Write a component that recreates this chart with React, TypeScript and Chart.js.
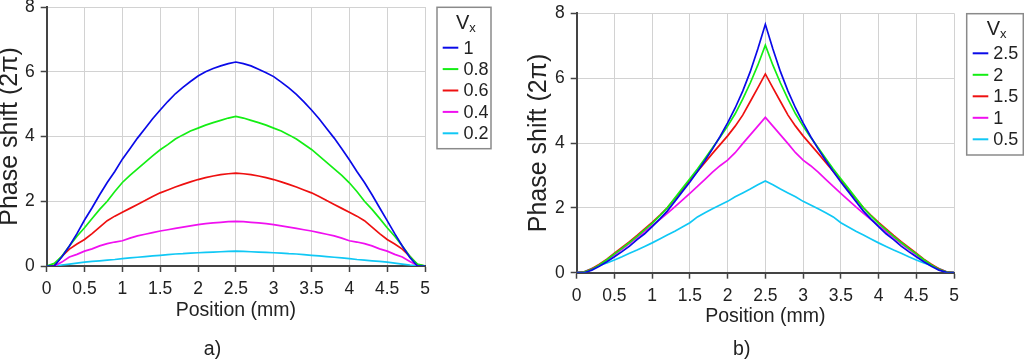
import React, { useEffect, useRef } from 'react';
import { Chart, registerables } from 'chart.js';

Chart.register(...registerables);

const FONT = '"Liberation Sans", Arial, Helvetica, sans-serif';

const positions = [
  0, 0.1, 0.2, 0.3, 0.4, 0.5, 0.6, 0.7, 0.8, 0.9, 1.0, 1.1, 1.2, 1.3, 1.4, 1.5, 1.6, 1.7, 1.8, 1.9, 2.0,
  2.1, 2.2, 2.3, 2.4, 2.5, 2.6, 2.7, 2.8, 2.9, 3.0, 3.1, 3.2, 3.3, 3.4, 3.5, 3.6, 3.7, 3.8, 3.9, 4.0,
  4.1, 4.2, 4.3, 4.4, 4.5, 4.6, 4.7, 4.8, 4.9, 5.0,
];

// Chart a) — legend Vx: 1, 0.8, 0.6, 0.4, 0.2
const vxLabelsA = ['1', '0.8', '0.6', '0.4', '0.2'];
const phaseA_1 = [
  0, 0, 0.28, 0.62, 1.0, 1.42, 1.8, 2.2, 2.58, 2.92, 3.3, 3.62, 3.95, 4.25, 4.55, 4.82, 5.08, 5.32, 5.52, 5.7, 5.87,
  6.0, 6.1, 6.18, 6.25, 6.3,
  6.25, 6.18, 6.08, 5.97, 5.85, 5.68, 5.5, 5.3, 5.07, 4.82, 4.55, 4.25, 3.95, 3.62, 3.28,
  2.92, 2.58, 2.2, 1.8, 1.4, 1.0, 0.62, 0.26, 0, 0,
];
const phaseA_08 = [
  0, 0.08, 0.3, 0.62, 0.92, 1.18, 1.47, 1.75, 2.0, 2.3, 2.58, 2.8, 3.0, 3.2, 3.4, 3.59, 3.75, 3.92, 4.05, 4.17, 4.26,
  4.35, 4.43, 4.5, 4.57, 4.62,
  4.57, 4.5, 4.43, 4.35, 4.26, 4.17, 4.05, 3.92, 3.76, 3.6, 3.4, 3.2, 3.0, 2.8, 2.57,
  2.3, 2.0, 1.75, 1.47, 1.18, 0.92, 0.62, 0.3, 0.06, 0,
];
const phaseA_06 = [
  0, 0.02, 0.3, 0.52, 0.68, 0.82, 1.0, 1.2, 1.4, 1.54, 1.66, 1.78, 1.9, 2.02, 2.15, 2.26, 2.35, 2.44, 2.52, 2.6, 2.67,
  2.73, 2.78, 2.82, 2.85, 2.87,
  2.85, 2.82, 2.78, 2.73, 2.67, 2.6, 2.52, 2.44, 2.35, 2.26, 2.15, 2.02, 1.9, 1.78, 1.66,
  1.54, 1.4, 1.2, 1.0, 0.82, 0.68, 0.52, 0.3, 0.04, 0,
];
const phaseA_04 = [
  0, 0, 0.12, 0.28, 0.36, 0.46, 0.53, 0.62, 0.69, 0.74, 0.78, 0.86, 0.93, 0.98, 1.03, 1.08, 1.12, 1.16, 1.2, 1.24, 1.28,
  1.31, 1.33, 1.35, 1.37, 1.38,
  1.37, 1.35, 1.33, 1.31, 1.28, 1.24, 1.2, 1.16, 1.12, 1.08, 1.03, 0.98, 0.93, 0.86, 0.78,
  0.74, 0.69, 0.62, 0.53, 0.46, 0.36, 0.28, 0.14, 0.02, 0,
];
const phaseA_02 = [
  0, 0, 0.03, 0.06, 0.09, 0.12, 0.14, 0.16, 0.18, 0.2, 0.23, 0.25, 0.27, 0.29, 0.31, 0.33, 0.35, 0.37, 0.38, 0.4, 0.41,
  0.42, 0.43, 0.44, 0.45, 0.46,
  0.45, 0.44, 0.43, 0.42, 0.41, 0.4, 0.38, 0.37, 0.35, 0.33, 0.31, 0.29, 0.27, 0.25, 0.23,
  0.2, 0.18, 0.16, 0.14, 0.12, 0.09, 0.06, 0.03, 0.01, 0,
];

// Chart b) — legend Vx: 2.5, 2, 1.5, 1, 0.5
const vxLabelsB = ['2.5', '2', '1.5', '1', '0.5'];
const phaseB_25 = [
  0, 0, 0.08, 0.2, 0.34, 0.49, 0.65, 0.82, 1.02, 1.2, 1.42, 1.65, 1.9, 2.2, 2.5, 2.8, 3.12, 3.46, 3.82, 4.2, 4.62,
  5.08, 5.6, 6.2, 6.9, 7.66,
  6.9, 6.2, 5.6, 5.08, 4.62, 4.2, 3.82, 3.46, 3.12, 2.8, 2.5, 2.2, 1.9, 1.65, 1.42,
  1.2, 1.02, 0.82, 0.65, 0.49, 0.34, 0.2, 0.08, 0.01, 0,
];
const phaseB_2 = [
  0, 0.02, 0.1, 0.24, 0.4, 0.58, 0.75, 0.93, 1.12, 1.32, 1.52, 1.75, 2.0, 2.3, 2.6, 2.9, 3.2, 3.52, 3.85, 4.18, 4.52,
  4.9, 5.35, 5.85, 6.4, 7.02,
  6.4, 5.85, 5.35, 4.9, 4.52, 4.18, 3.85, 3.52, 3.2, 2.9, 2.6, 2.3, 2.0, 1.75, 1.52,
  1.32, 1.12, 0.93, 0.75, 0.58, 0.4, 0.24, 0.1, 0.02, 0,
];
const phaseB_15 = [
  0, 0.03, 0.12, 0.26, 0.42, 0.6, 0.78, 0.96, 1.15, 1.35, 1.55, 1.77, 2.0, 2.28, 2.56, 2.85, 3.12, 3.4, 3.68, 3.95, 4.22,
  4.52, 4.86, 5.28, 5.7, 6.13,
  5.7, 5.28, 4.86, 4.52, 4.22, 3.95, 3.68, 3.4, 3.12, 2.85, 2.56, 2.28, 2.0, 1.77, 1.55,
  1.35, 1.15, 0.96, 0.78, 0.6, 0.42, 0.26, 0.12, 0.03, 0,
];
const phaseB_1 = [
  0, 0.02, 0.1, 0.23, 0.38, 0.55, 0.72, 0.9, 1.08, 1.27, 1.45, 1.64, 1.83, 2.03, 2.24, 2.45, 2.66, 2.88, 3.1, 3.3, 3.47,
  3.7, 3.98, 4.25, 4.52, 4.79,
  4.52, 4.25, 3.98, 3.7, 3.47, 3.3, 3.1, 2.88, 2.66, 2.45, 2.24, 2.03, 1.83, 1.64, 1.45,
  1.27, 1.08, 0.9, 0.72, 0.55, 0.38, 0.23, 0.1, 0.02, 0,
];
const phaseB_05 = [
  0, 0.03, 0.13, 0.22, 0.3, 0.39, 0.49, 0.6, 0.7, 0.81, 0.92, 1.04, 1.16, 1.28, 1.41, 1.54, 1.72, 1.85, 1.97, 2.09, 2.2,
  2.34, 2.46, 2.58, 2.71, 2.83,
  2.71, 2.58, 2.46, 2.34, 2.2, 2.09, 1.97, 1.85, 1.72, 1.54, 1.41, 1.28, 1.16, 1.04, 0.92,
  0.81, 0.7, 0.6, 0.49, 0.39, 0.3, 0.22, 0.13, 0.03, 0,
];

const xTicksMax = 5;
const yTicksMax = 8;
const seriesColors = ['#0a0ae8', '#14ee14', '#ee1010', '#f010f0', '#10c8f5'];

const seriesA = [phaseA_1, phaseA_08, phaseA_06, phaseA_04, phaseA_02];
const seriesB = [phaseB_25, phaseB_2, phaseB_15, phaseB_1, phaseB_05];

const boxLegendPlugin = {
  id: 'boxLegend',
  afterDraw(chart: any, _args: any, opts: any) {
    const ctx = chart.ctx as CanvasRenderingContext2D;
    ctx.save();
    ctx.strokeStyle = '#8a8a8a';
    ctx.lineWidth = 1.5;
    ctx.strokeRect(opts.x, opts.y, opts.w, opts.h);
    ctx.fillStyle = '#222';
    ctx.textBaseline = 'middle';
    ctx.textAlign = 'left';
    ctx.font = `${opts.titleSize}px ${FONT}`;
    ctx.fillText('V', opts.titleX, opts.titleY);
    const vw = ctx.measureText('V').width;
    ctx.font = `${opts.subSize}px ${FONT}`;
    ctx.fillText('x', opts.titleX + vw, opts.titleY + 5);
    ctx.font = `${opts.fontSize}px ${FONT}`;
    chart.data.datasets.forEach((ds: any, i: number) => {
      const y = opts.rowY + i * opts.rowGap;
      ctx.strokeStyle = ds.borderColor;
      ctx.lineWidth = 2;
      ctx.beginPath();
      ctx.moveTo(opts.lineX0, y);
      ctx.lineTo(opts.lineX1, y);
      ctx.stroke();
      ctx.fillStyle = '#222';
      ctx.fillText(ds.label, opts.textX, y + 1);
    });
    ctx.restore();
  },
};

function makeConfig(series: number[][], labels: string[], panel: string, lay: any) {
  return {
    type: 'line' as const,
    data: {
      datasets: series.map((vals, i) => ({
        label: labels[i],
        data: positions.map((x, j) => ({ x, y: vals[j] })),
        borderColor: seriesColors[i],
        backgroundColor: seriesColors[i],
        borderWidth: 1.7,
        pointRadius: 0,
        tension: 0,
        fill: false,
      })),
    },
    options: {
      animation: false,
      responsive: false,
      devicePixelRatio: 1,
      layout: { padding: { left: lay.padLeft, top: lay.padTop, right: lay.padRight, bottom: 0 } },
      scales: {
        x: {
          type: 'linear',
          min: 0,
          max: xTicksMax,
          ticks: {
            stepSize: 0.5,
            color: '#222',
            font: { family: FONT, size: 17.5 },
            padding: 6.5,
            maxRotation: 0,
            autoSkip: false,
            callback: (v: number) => String(Math.round(v * 10) / 10),
          },
          grid: { color: '#d2d2d2', lineWidth: 1, tickLength: 6, tickColor: '#444', tickWidth: 1.5 },
          border: { color: '#444', width: 2 },
          title: { display: true, text: 'Position (mm)', color: '#222', font: { family: FONT, size: 19.5, lineHeight: 1 }, padding: 0 },
          afterFit: (s: any) => {
            s.height = lay.xH;
            s.paddingLeft = 0;
            s.paddingRight = 0;
          },
        },
        y: {
          type: 'linear',
          min: 0,
          max: yTicksMax,
          ticks: { stepSize: 2, color: '#222', font: { family: FONT, size: 17.5 }, padding: 6 },
          grid: { color: '#d2d2d2', lineWidth: 1, tickLength: 6, tickColor: '#444', tickWidth: 1.5 },
          border: { color: '#444', width: 2 },
          title: { display: true, text: 'Phase shift (2π)', color: '#222', font: { family: FONT, size: 25, lineHeight: 0.8 }, padding: 0 },
          afterFit: (s: any) => {
            s.width = lay.yW;
            s.paddingTop = 0;
            s.paddingBottom = 0;
          },
        },
      },
      plugins: {
        legend: { display: false },
        tooltip: { enabled: false },
        title: {
          display: true,
          text: panel,
          position: 'bottom',
          color: '#222',
          font: { family: FONT, size: 19.5, lineHeight: 1, weight: 'normal' },
          padding: { top: lay.titleTop, bottom: 0 },
        },
        boxLegend: lay.legend,
      },
    },
    plugins: [boxLegendPlugin],
  };
}

const layoutA = {
  padLeft: 0,
  padTop: 7,
  padRight: 87,
  yW: 46.7,
  xH: 54.45,
  titleTop: 19.05,
  legend: { x: 437, y: 7.3, w: 54, h: 141.4, fontSize: 18, titleSize: 20, subSize: 13, titleX: 456, titleY: 23.5, rowY: 47.7, rowGap: 21.4, lineX0: 442.7, lineX1: 458.3, textX: 463.5 },
};
const layoutB = {
  padLeft: 17.5,
  padTop: 13.3,
  padRight: 70,
  yW: 47.2,
  xH: 53.75,
  titleTop: 13.05,
  legend: { x: 454.7, y: 13.7, w: 56.6, h: 141.3, fontSize: 18, titleSize: 20, subSize: 13, titleX: 474.7, titleY: 29.2, rowY: 53.3, rowGap: 21.5, lineX0: 460.7, lineX1: 476.3, textX: 481.3 },
};

function Panel({ series, labels, panel, lay }: any) {
  const ref = useRef<HTMLCanvasElement | null>(null);
  useEffect(() => {
    if (!ref.current) return;
    const chart = new Chart(ref.current, makeConfig(series, labels, panel, lay) as any);
    return () => chart.destroy();
  }, []);
  return <canvas ref={ref} width={512} height={359} style={{ width: 512, height: 359, display: 'block' }} />;
}

export default function App() {
  return (
    <div style={{ position: 'absolute', left: 0, top: 0, width: 1024, height: 359, display: 'flex', background: '#fff' }}>
      <Panel series={seriesA} labels={vxLabelsA} panel="a)" lay={layoutA} />
      <Panel series={seriesB} labels={vxLabelsB} panel="b)" lay={layoutB} />
    </div>
  );
}
